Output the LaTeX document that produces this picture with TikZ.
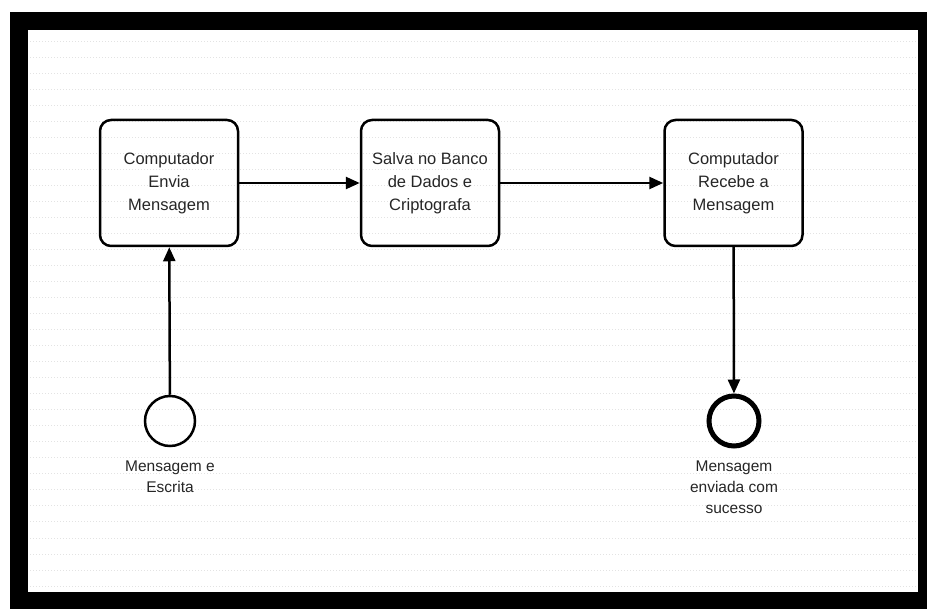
\documentclass[tikz,border=0pt]{standalone}
\usepackage{fontspec}
\setmainfont{Liberation Sans}
\usetikzlibrary{arrows.meta}

\begin{document}
\begin{tikzpicture}[x=1pt, y=-1pt,
        task/.style={draw, line width=2.5pt, rounded corners=11pt, minimum width=138pt,
            minimum height=126pt, align=center, text=black!85,
            font=\fontsize{16.5}{23}\selectfont},
        event/.style={draw, circle, minimum size=50pt, inner sep=0pt},
        lbl/.style={align=center, text=black!85, font=\fontsize{15.5}{21}\selectfont},
        flow/.style={line width=2.5pt, -{Triangle[width=12pt, length=14pt]}}]
        \useasboundingbox (0,0) rectangle (927,609);

        % frame and background
        \fill[black] (10,12) rectangle (927,609);
        \fill[white] (28,30) rectangle (918,592);
        \foreach \y in {42,58,...,590}
            \draw[gray!22, dotted, line width=1pt] (30,\y) -- (916,\y);

        \node[task] (send) at (169,183) {Computador\\Envia\\Mensagem};
        \node[task] (save) at (430,183) {Salva no Banco\\de Dados e\\Criptografa};
        \node[task] (recv) at (733.5,183) {Computador\\Recebe a\\Mensagem};

        \node[event, line width=2.5pt] (start) at (170,421) {};
        \node[event, line width=5pt] (end) at (734,421) {};

        \node[lbl, anchor=north] (startlbl) at (170,457) {Mensagem e\\Escrita};
        \node[lbl, anchor=north] (endlbl) at (734,457) {Mensagem\\enviada com\\sucesso};

        \draw[flow] (start) -- (send);
        \draw[flow] (send) -- (save);
        \draw[flow] (save) -- (recv);
        \draw[flow] (recv) -- (end);
    \end{tikzpicture}
\end{document}
